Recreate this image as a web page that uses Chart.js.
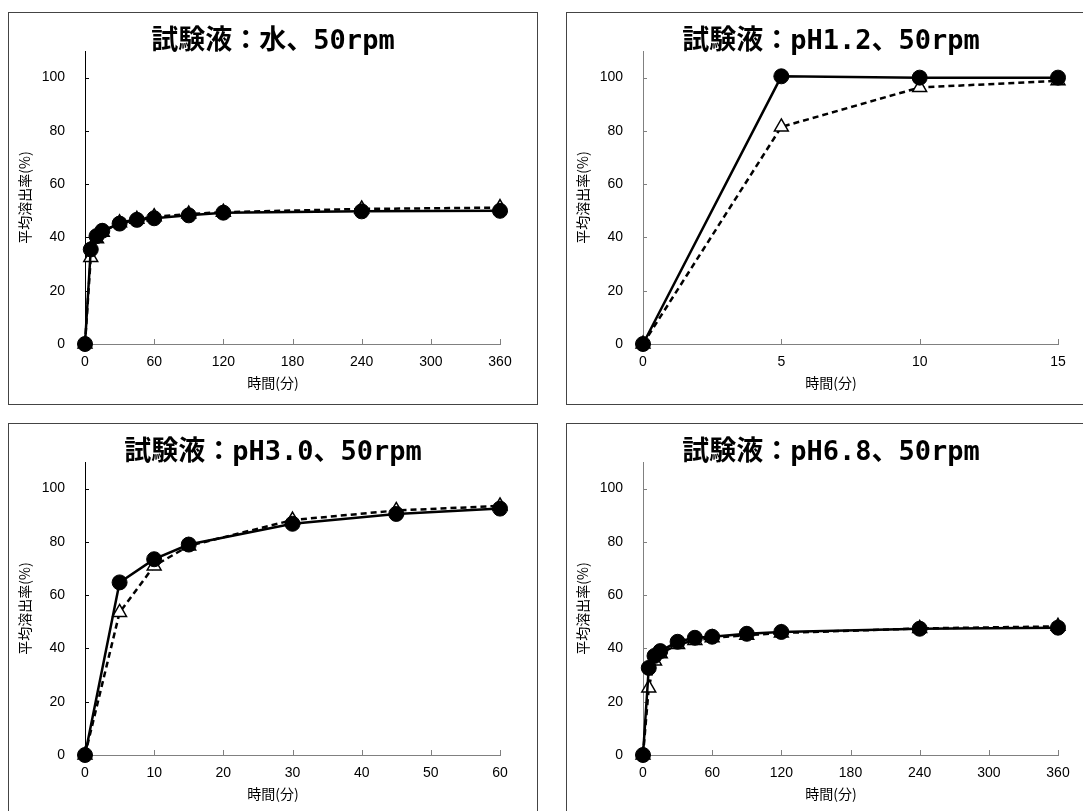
<!DOCTYPE html>
<html>
<head>
<meta charset="utf-8">
<script src="https://cdn.jsdelivr.net/npm/chart.js@4"></script>
<style>
html, body { margin: 0; padding: 0; }
body { width: 1083px; height: 811px; overflow: hidden; background: #fff; position: relative; }
.panel { position: absolute; width: 530px; height: 393px; border: 1px solid #444; box-sizing: border-box; background: #fff; }
canvas { display: block; }
</style>
</head>
<body>
<div class="panel" style="left:8px;top:12px"><canvas id="c1" width="528" height="391"></canvas></div>
<div class="panel" style="left:566px;top:12px"><canvas id="c2" width="528" height="391"></canvas></div>
<div class="panel" style="left:8px;top:423px"><canvas id="c3" width="528" height="391"></canvas></div>
<div class="panel" style="left:566px;top:423px"><canvas id="c4" width="528" height="391"></canvas></div>
<script>
// 時間(分)
const timesLong = [0, 5, 10, 15, 30, 45, 60, 90, 120, 240, 360];
const timesPH12 = [0, 5, 10, 15];
const timesPH30 = [0, 5, 10, 15, 30, 45, 60];

// 平均溶出率(%)  solid = ●, dashed = △
const waterSolid  = [0, 35.5, 40.5, 42.5, 45.2, 46.6, 47.2, 48.3, 49.3, 49.8, 50.0];
const waterDashed = [0, 32.5, 39.5, 42.0, 45.5, 46.8, 47.8, 48.8, 49.5, 50.7, 51.2];
const ph12Solid   = [0, 100.5, 100.0, 100.0];
const ph12Dashed  = [0, 81.5, 96.3, 98.8];
const ph30Solid   = [0, 64.8, 73.5, 79.0, 86.8, 90.5, 92.5];
const ph30Dashed  = [0, 53.5, 71.0, 78.5, 88.2, 91.8, 93.5];
const ph68Solid   = [0, 32.7, 37.2, 39.0, 42.5, 44.0, 44.4, 45.5, 46.2, 47.4, 47.8];
const ph68Dashed  = [0, 25.2, 35.3, 38.0, 41.5, 43.0, 44.0, 45.0, 45.8, 47.5, 48.3];

const yTicks = [0, 20, 40, 60, 80, 100];
const xTicksLong = [0, 60, 120, 180, 240, 300, 360];
const xTicksPH12 = [0, 5, 10, 15];
const xTicksPH30 = [0, 10, 20, 30, 40, 50, 60];

const titles = ['試験液：水、50rpm', '試験液：pH1.2、50rpm', '試験液：pH3.0、50rpm', '試験液：pH6.8、50rpm'];
const xTitle = '時間(分)';
const yTitle = '平均溶出率(%)';

const tickFont = { family: "'Liberation Sans Narrow', 'Liberation Sans', Arial, sans-serif", size: 14 };

function points(xs, ys) {
    return xs.map((x, i) => ({ x: x, y: ys[i] }));
}

const extras = {
    id: 'extras',
    beforeDatasetsDraw(chart, args, opts) {
        const ctx = chart.ctx;
        const a = chart.chartArea;
        ctx.save();
        ctx.lineWidth = 1;
        ctx.strokeStyle = '#808080';
        chart.scales.x.ticks.forEach(t => {
            if (t.value === 0) return;
            const px = Math.round(chart.scales.x.getPixelForValue(t.value)) + 0.5;
            ctx.beginPath();
            ctx.moveTo(px, a.bottom);
            ctx.lineTo(px, a.bottom - 5);
            ctx.stroke();
        });
        ctx.strokeStyle = opts.yColor;
        chart.scales.y.ticks.forEach(t => {
            if (t.value === 0) return;
            const py = Math.round(chart.scales.y.getPixelForValue(t.value)) + 0.5;
            ctx.beginPath();
            ctx.moveTo(a.left, py);
            ctx.lineTo(a.left + 4, py);
            ctx.stroke();
        });
        ctx.restore();
    },
    afterDraw(chart, args, opts) {
        const ctx = chart.ctx;
        const a = chart.chartArea;
        ctx.save();
        ctx.fillStyle = '#000';
        ctx.textAlign = 'center';
        ctx.textBaseline = 'middle';
        ctx.font = "bold 27px 'DejaVu Sans Mono', 'Noto Sans CJK JP', sans-serif";
        ctx.fillText(opts.title, chart.width / 2, 29);
        ctx.font = "14px 'Noto Sans CJK JP', sans-serif";
        ctx.fillText(xTitle, chart.width / 2, 370);
        ctx.translate(16, (a.top + a.bottom) / 2);
        ctx.rotate(-Math.PI / 2);
        ctx.font = "14px 'Noto Sans CJK JP', sans-serif";
        ctx.fillText(yTitle, 0, 0);
        ctx.restore();
    }
};

function makeChart(id, title, times, solid, dashed, xTicks, yColor) {
    return new Chart(document.getElementById(id), {
        type: 'line',
        data: {
            datasets: [{
                data: points(times, solid),
                borderColor: '#000',
                borderWidth: 2.5,
                pointStyle: 'circle',
                pointRadius: 7.5,
                pointBackgroundColor: '#000',
                pointBorderColor: '#000',
                pointBorderWidth: 1,
                clip: false
            }, {
                data: points(times, dashed),
                borderColor: '#000',
                borderWidth: 2.5,
                borderDash: [6, 4],
                pointStyle: 'triangle',
                pointRadius: 8,
                pointBackgroundColor: '#fff',
                pointBorderColor: '#000',
                pointBorderWidth: 1.5,
                clip: false
            }]
        },
        options: {
            responsive: false,
            animation: false,
            devicePixelRatio: 1,
            layout: { padding: { top: 38, right: 37, left: 0, bottom: 0 } },
            plugins: {
                legend: { display: false },
                tooltip: { enabled: false },
                extras: { title: title, yColor: yColor }
            },
            scales: {
                x: {
                    type: 'linear',
                    min: xTicks[0],
                    max: xTicks[xTicks.length - 1],
                    afterBuildTicks: s => { s.ticks = xTicks.map(v => ({ value: v })); },
                    afterFit: s => { s.height = 60; },
                    grid: { display: false, drawTicks: false },
                    border: { color: '#808080', width: 1 },
                    ticks: { padding: 10, color: '#000', font: tickFont, maxRotation: 0 }
                },
                y: {
                    type: 'linear',
                    min: 0,
                    max: 110,
                    afterBuildTicks: s => { s.ticks = yTicks.map(v => ({ value: v })); },
                    afterFit: s => { s.width = 76; },
                    grid: { display: false, drawTicks: false },
                    border: { color: yColor, width: 1 },
                    ticks: { padding: 20, color: '#000', font: tickFont }
                }
            }
        },
        plugins: [extras]
    });
}

makeChart('c1', titles[0], timesLong, waterSolid, waterDashed, xTicksLong, '#000');
makeChart('c2', titles[1], timesPH12, ph12Solid, ph12Dashed, xTicksPH12, '#808080');
makeChart('c3', titles[2], timesPH30, ph30Solid, ph30Dashed, xTicksPH30, '#000');
makeChart('c4', titles[3], timesLong, ph68Solid, ph68Dashed, xTicksLong, '#808080');
</script>
</body>
</html>
